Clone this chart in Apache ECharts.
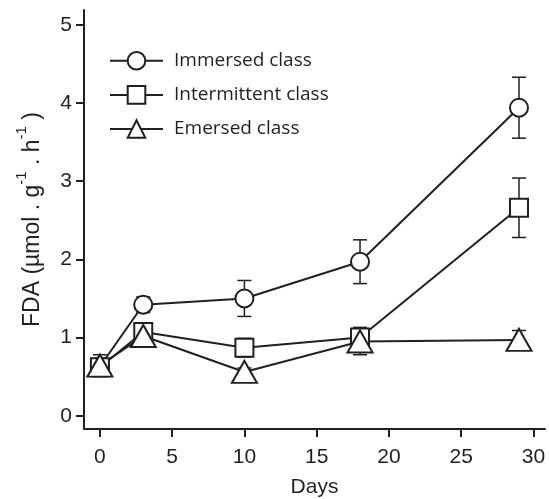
<!DOCTYPE html>
<html>
<head>
<meta charset="utf-8">
<script src="https://cdn.jsdelivr.net/npm/echarts@6/dist/echarts.min.js"></script>
<style>html,body{margin:0;padding:0;background:#fff;}#c{width:549px;height:499px;}</style>
</head>
<body>
<div id="c"></div>
<script>
const days = [0, 3, 10, 18, 29];
const immersed = [0.63, 1.42, 1.50, 1.97, 3.94];
const immersedErr = [0.06, 0.10, 0.23, 0.28, 0.39];
const intermittent = [0.62, 1.07, 0.87, 1.00, 2.66];
const intermittentErr = [0.06, 0.09, 0.12, 0.13, 0.38];
const emersed = [0.64, 1.02, 0.56, 0.95, 0.97];
const emersedErr = [0.14, 0.05, 0.05, 0.17, 0.12];
const xTicks = [0, 5, 10, 15, 20, 25, 30];
const yTicks = [0, 1, 2, 3, 4, 5];
const seriesNames = ['Immersed class', 'Intermittent class', 'Emersed class'];

const INK = '#231f20';
const chart = echarts.init(document.getElementById('c'), null, {renderer: 'canvas'});

function pts(vals) { return days.map((d, i) => [d, vals[i]]); }
function errData(vals, errs) { return days.map((d, i) => [d, vals[i] - errs[i], vals[i] + errs[i]]); }

function errSeries(vals, errs) {
  return {
    type: 'custom',
    silent: true,
    z: 1,
    data: errData(vals, errs),
    encode: {x: 0, y: [1, 2]},
    renderItem: function (params, api) {
      const x = api.value(0);
      const lo = api.coord([x, api.value(1)]);
      const hi = api.coord([x, api.value(2)]);
      const hw = 7;
      const st = {stroke: INK, lineWidth: 1.5};
      return {
        type: 'group',
        children: [
          {type: 'line', shape: {x1: lo[0], y1: lo[1], x2: hi[0], y2: hi[1]}, style: st},
          {type: 'line', shape: {x1: lo[0] - hw, y1: lo[1], x2: lo[0] + hw, y2: lo[1]}, style: st},
          {type: 'line', shape: {x1: hi[0] - hw, y1: hi[1], x2: hi[0] + hw, y2: hi[1]}, style: st}
        ]
      };
    }
  };
}

function lineSeries(name, vals, symbol, size) {
  return {
    name: name,
    type: 'line',
    z: 3,
    data: pts(vals),
    symbol: symbol,
    symbolSize: size,
    showAllSymbol: true,
    lineStyle: {color: INK, width: 2},
    itemStyle: {color: '#fff', borderColor: INK, borderWidth: 2},
    emphasis: {disabled: true}
  };
}

const option = {
  animation: false,
  backgroundColor: '#fff',
  grid: {left: 84, right: 4, top: 10, bottom: 70, containLabel: false, outerBoundsMode: 'none'},
  legend: {
    orient: 'vertical',
    left: 104,
    top: 46,
    itemWidth: 53,
    itemHeight: 22,
    itemGap: 14.5,
    selectedMode: false,
    data: seriesNames,
    textStyle: {fontFamily: 'Open Sans', fontSize: 19, color: INK, padding: [0, 0, 0, 6]}
  },
  xAxis: {
    type: 'value',
    min: -1.1,
    max: 30.8,
    name: 'Days',
    nameLocation: 'middle',
    nameGap: 48,
    nameTextStyle: {fontFamily: 'Liberation Sans', fontSize: 21, color: INK},
    axisLine: {show: true, onZero: false, lineStyle: {color: INK, width: 2}},
    axisTick: {show: true, length: 8, customValues: xTicks, lineStyle: {color: INK, width: 2}},
    axisLabel: {customValues: xTicks, margin: 18, fontFamily: 'Liberation Sans', fontSize: 21, color: INK},
    splitLine: {show: false}
  },
  yAxis: {
    type: 'value',
    min: -0.17,
    max: 5.19,
    name: '{n|FDA (µmol . g}{s|-1}{n| . h}{s|-1}{n| )}',
    nameLocation: 'middle',
    nameGap: 40,
    nameRotate: 90,
    nameTextStyle: {
      fontFamily: 'Liberation Sans', fontSize: 23, color: INK,
      rich: {
        n: {fontFamily: 'Liberation Sans', fontSize: 23, color: INK, lineHeight: 30, verticalAlign: 'bottom'},
        s: {fontFamily: 'Liberation Sans', fontSize: 15, color: INK, lineHeight: 30, verticalAlign: 'top'}
      }
    },
    axisLine: {show: true, onZero: false, lineStyle: {color: INK, width: 2}},
    axisTick: {show: true, length: 8, customValues: yTicks, lineStyle: {color: INK, width: 2}},
    axisLabel: {customValues: yTicks, margin: 12, fontFamily: 'Liberation Sans', fontSize: 21, color: INK},
    splitLine: {show: false}
  },
  series: [
    errSeries(immersed, immersedErr),
    errSeries(intermittent, intermittentErr),
    errSeries(emersed, emersedErr),
    lineSeries(seriesNames[0], immersed, 'circle', 18),
    lineSeries(seriesNames[1], intermittent, 'rect', 18),
    lineSeries(seriesNames[2], emersed, 'triangle', [25, 22])
  ]
};
chart.setOption(option);
</script>
</body>
</html>
